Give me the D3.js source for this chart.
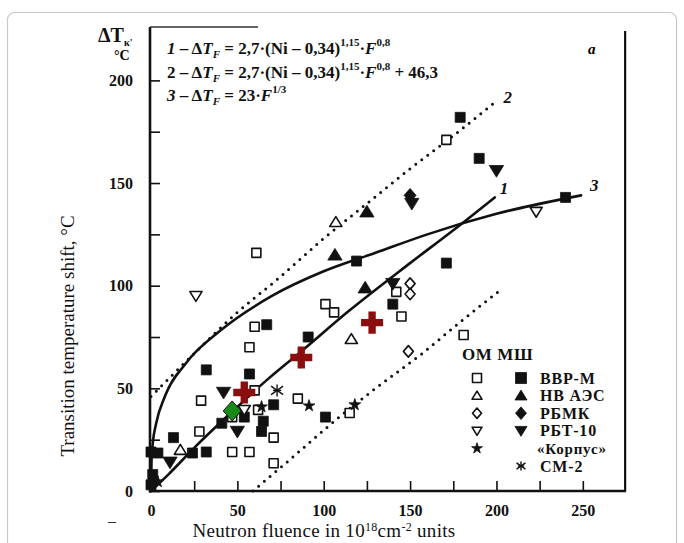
<!DOCTYPE html>
<html><head><meta charset="utf-8">
<script src="https://cdn.jsdelivr.net/npm/d3@7/dist/d3.min.js"></script>
<style>
html,body{margin:0;padding:0;background:#fff;}
svg{display:block;font-family:"Liberation Serif","Times New Roman",serif;}
</style></head><body>
<svg id="chart" width="684" height="543"></svg>
<script>
// points: [fluence (10^18 cm-2), shift (°C)]
const omVVR = [[61,116],[171,171],[101,91],[106,87],[60,80],[57,70],[142,97],[145,85],[181,76],[115,38],
    [29,44],[60,49],[62,39.5],[28,29],[47,19],[57,19],[71,26],[71,13.5],[85,45],[47,36]];
const mshVVR = [[179,182],[190,162],[240,143],[171,111],[119,112],[140,91],[67,81],[91,75],[32,59],[57,57],
    [71,42],[65,34],[64,29],[54,36],[41,33],[101,36],[13,26],[32,19],[24,18.5],[4,18.5],[0,19],[1,8],[0,3]];
const omNV = [[107,131],[116,74],[17,20]];
const mshNV = [[125,136],[106.5,115],[124,99]];
const omRBMK = [[150,101],[150,96],[149,68]];
const mshRBMK = [[150,144]];
const omRBT = [[26,95],[223,136],[54,39.5]];
const mshRBT = [[200,156],[151,140],[140,101],[42,48],[50,29],[11,14]];
const korpus = [[118,42],[91.5,41.5],[64,41],[4,4.5]];
const sm2 = [[73,49]];
const redCross = [[54,48],[87,65],[128,82]];
const greenDiamond = [[47,39]];

// fitted curves
const curve1 = [[0,0],[10,8],[25,21],[50,41],[67,54],[87,68],[115,88],[150,111],[175,127],[199,143]];
const curve2 = [[0,46],[25,67],[50,87],[73,103],[100,123],[125,140],[150,157],[175,173],[200,190]];
const curve2low = [[59,0],[80,15],[109,36],[130,50],[157,67],[180,83],[201,97]];
const curve3 = [[0,0],[0.3,15],[1,23],[3,33],[8,46],[20,62],[40,78],[70,95],[100,107],[130,116],[160,125],[200,135],[249,144]];

const xTicks = d3.range(0, 251, 25);
const yTicks = d3.range(0, 201, 25);

const legendRows = [
    { open: 'square', filled: 'square', label: 'ВВР-М' },
    { open: 'triUp', filled: 'triUp', label: 'НВ АЭС' },
    { open: 'diamond', filled: 'diamond', label: 'РБМК' },
    { open: 'triDown', filled: 'triDown', label: 'РБТ-10' },
    { open: 'star', filled: null, label: '«Корпус»' },
    { open: null, filled: 'asterisk', label: 'СМ-2' }
];

const svg = d3.select('#chart');
const x = d3.scaleLinear().domain([0, 275]).range([151, 626]);
const y = d3.scaleLinear().domain([0, 226]).range([491, 27]);

// outer page frame
svg.append('rect').attr('x', 7.5).attr('y', 12.5).attr('width', 669).attr('height', 545)
    .attr('rx', 7).attr('fill', '#fff').attr('stroke', '#c8c8c8').attr('stroke-width', 1.2);

// axes (inward ticks)
const xAxis = svg.append('g').attr('transform', `translate(0,${y(0)})`)
    .call(d3.axisBottom(x).tickValues(xTicks).tickSizeInner(-10).tickSizeOuter(0).tickPadding(14)
        .tickFormat(d => d % 50 === 0 ? d : ''));
const yAxis = svg.append('g').attr('transform', `translate(${x(0) - 1},0)`)
    .call(d3.axisLeft(y).tickValues(yTicks).tickSizeInner(-10).tickSizeOuter(0).tickPadding(17)
        .tickFormat(d => d % 50 === 0 ? d : ''));
[xAxis, yAxis].forEach(a => {
    a.select('.domain').remove();
    a.selectAll('line').attr('stroke', '#111').attr('stroke-width', 1.6);
    a.selectAll('text').attr('font-family', '"Liberation Serif", serif').attr('font-size', 16)
        .attr('font-weight', 700).attr('fill', '#111');
});

// frame lines
svg.append('line').attr('x1', x(0) - 1).attr('x2', x(0) - 1).attr('y1', y(226)).attr('y2', y(0) + 1.5)
    .attr('stroke', '#111').attr('stroke-width', 2.6);
svg.append('line').attr('x1', x(0) - 2).attr('x2', x(275)).attr('y1', y(0)).attr('y2', y(0))
    .attr('stroke', '#111').attr('stroke-width', 2.6);
svg.append('line').attr('x1', x(274.5)).attr('x2', x(274.5)).attr('y1', y(224)).attr('y2', y(0))
    .attr('stroke', '#111').attr('stroke-width', 2.2);
svg.append('line').attr('x1', x(0) - 1).attr('x2', x(62)).attr('y1', y(226)).attr('y2', y(226))
    .attr('stroke', '#333').attr('stroke-width', 1.6);

// curves
const line = d3.line().x(d => x(d[0])).y(d => y(d[1])).curve(d3.curveMonotoneX);
function drawCurve(data, dotted) {
    svg.append('path').datum(data).attr('d', line).attr('fill', 'none').attr('stroke', '#111')
        .attr('stroke-width', dotted ? 3 : 2.6).attr('stroke-linecap', 'round')
        .attr('stroke-dasharray', dotted ? '0 7.5' : null);
}
drawCurve(curve1, false);
drawCurve(curve3, false);
drawCurve(curve2, true);
drawCurve(curve2low, true);

function curveLabel(pt, txt, dx, dy) {
    svg.append('text').attr('x', x(pt[0]) + dx).attr('y', y(pt[1]) + dy)
        .attr('font-size', 17).attr('font-style', 'italic').attr('font-weight', 700).attr('fill', '#111')
        .text(txt);
}
curveLabel(curve1[curve1.length - 1], '1', 5, -3);
curveLabel(curve2[curve2.length - 1], '2', 7, 2);
curveLabel(curve3[curve3.length - 1], '3', 9, -4);

// markers
function symbolPath(type, s) {
    const h = s / 2;
    if (type === 'triUp') return `M0,${-h}L${h * 1.1},${h * 0.8}L${-h * 1.1},${h * 0.8}Z`;
    if (type === 'triDown') return `M0,${h}L${h * 1.1},${-h * 0.8}L${-h * 1.1},${-h * 0.8}Z`;
    if (type === 'diamond') return `M0,${-h * 1.15}L${h},0L0,${h * 1.15}L${-h},0Z`;
    if (type === 'star') return d3.symbol(d3.symbolStar, s * s * 0.3)();
    return `M${-h},${-h}h${s}v${s}h${-s}Z`;
}
function drawSymbol(g, type, filled, cx, cy, s) {
    if (type === 'asterisk') {
        const r = s * 0.5;
        const a = g.append('g').attr('transform', `translate(${cx},${cy})`)
            .attr('stroke', '#111').attr('stroke-width', 1.4);
        a.append('line').attr('x1', 0).attr('x2', 0).attr('y1', -r).attr('y2', r);
        a.append('line').attr('x1', -r).attr('x2', r).attr('y1', -r * 0.7).attr('y2', r * 0.7);
        a.append('line').attr('x1', -r).attr('x2', r).attr('y1', r * 0.7).attr('y2', -r * 0.7);
        a.append('line').attr('x1', -r * 0.7).attr('x2', r * 0.7).attr('y1', 0).attr('y2', 0);
        return;
    }
    g.append('path').attr('d', symbolPath(type, s)).attr('transform', `translate(${cx},${cy})`)
        .attr('fill', filled ? '#111' : '#fff').attr('stroke', '#111')
        .attr('stroke-width', filled ? 0.8 : 1.6).attr('stroke-linejoin', 'round');
}
const marks = svg.append('g');
function drawSeries(data, type, filled, s) {
    data.forEach(d => drawSymbol(marks, type, filled, x(d[0]), y(d[1]), s));
}
drawSeries(omVVR, 'square', false, 9);
drawSeries(mshVVR, 'square', true, 10);
drawSeries(omNV, 'triUp', false, 11);
drawSeries(mshNV, 'triUp', true, 13);
drawSeries(omRBMK, 'diamond', false, 10);
drawSeries(mshRBMK, 'diamond', true, 12);
drawSeries(omRBT, 'triDown', false, 11);
drawSeries(mshRBT, 'triDown', true, 13);
drawSeries(korpus, 'star', true, 12);
drawSeries(sm2, 'asterisk', false, 12);

// highlighted points
greenDiamond.forEach(d => {
    marks.append('path').attr('d', 'M0,-10L9,0L0,10L-9,0Z')
        .attr('transform', `translate(${x(d[0])},${y(d[1])})`)
        .attr('fill', '#178a17').attr('stroke', '#111').attr('stroke-width', 1);
});
redCross.forEach(d => {
    marks.append('path').attr('d', d3.symbol(d3.symbolCross, 270)())
        .attr('transform', `translate(${x(d[0])},${y(d[1])})`)
        .attr('fill', '#8b0d0d');
});

// legend
const lg = svg.append('g').attr('font-weight', 700).attr('fill', '#111');
lg.append('text').attr('x', 462).attr('y', 360).attr('font-size', 17).attr('letter-spacing', 0.6).text('ОМ МШ');
legendRows.forEach((r, i) => {
    const cy = 378 + i * 17.6;
    if (r.open) drawSymbol(lg, r.open, r.open === 'star', 477, cy, r.open === 'star' ? 11 : 9);
    if (r.filled) drawSymbol(lg, r.filled, true, 521, cy, r.filled === 'asterisk' ? 9 : 11);
    const k = r.label.startsWith('«');
    lg.append('text').attr('x', k ? 537 : 540).attr('y', cy + 5.5)
        .attr('font-size', k ? 15 : 16).attr('letter-spacing', 0.8).text(r.label);
});

// formulas
const fm = svg.append('g').attr('font-size', 17).attr('font-weight', 700).attr('fill', '#111');
function formula(yy, num, italicNum, parts) {
    const t = fm.append('text').attr('x', 167).attr('y', yy);
    t.append('tspan').attr('font-style', italicNum ? 'italic' : null).text(num);
    t.append('tspan').text(' – Δ');
    t.append('tspan').attr('font-style', 'italic').text('T');
    t.append('tspan').attr('font-style', 'italic').attr('font-size', 11).attr('dy', 4).text('F');
    parts.forEach((p, i) => {
        const sp = t.append('tspan').text(p.t);
        if (p.sup) sp.attr('font-size', 11).attr('dy', -8);
        if (p.after) sp.attr('dy', 8);
        if (p.it) sp.attr('font-style', 'italic');
        if (i === 0) sp.attr('dy', -4);
    });
}
formula(54, '1', true, [{ t: ' = 2,7·(Ni – 0,34)' }, { t: '1,15', sup: true }, { t: '·', after: true },
    { t: 'F', it: true }, { t: '0,8', sup: true }]);
formula(78, '2', false, [{ t: ' = 2,7·(Ni – 0,34)' }, { t: '1,15', sup: true }, { t: '·', after: true },
    { t: 'F', it: true }, { t: '0,8', sup: true }, { t: ' + 46,3', after: true }]);
formula(101, '3', true, [{ t: ' = 23·' }, { t: 'F', it: true }, { t: '1/3', sup: true }]);
svg.append('text').attr('x', 588).attr('y', 54).attr('font-size', 15).attr('font-style', 'italic')
    .attr('font-weight', 700).text('a');

// old axis caption top-left
const cap = svg.append('text').attr('x', 98).attr('y', 42).attr('font-weight', 700).attr('fill', '#111');
cap.append('tspan').attr('font-size', 20).text('ΔT');
cap.append('tspan').attr('font-size', 10).attr('dy', 4).text('к\'');
svg.append('text').attr('x', 114).attr('y', 60).attr('font-size', 14).attr('font-weight', 700).text('°C');
svg.append('text').attr('x', 108).attr('y', 526).attr('font-size', 16).attr('fill', '#333').text('–');

// axis titles
svg.append('text').attr('transform', 'translate(74,336) rotate(-90)').attr('text-anchor', 'middle')
    .attr('font-size', 19).attr('fill', '#111').text('Transition temperature shift, °C');
const xt = svg.append('text').attr('x', 324).attr('y', 537).attr('text-anchor', 'middle')
    .attr('font-size', 19).attr('letter-spacing', 0.3).attr('fill', '#111');
xt.append('tspan').text('Neutron fluence in 10');
xt.append('tspan').attr('font-size', 12).attr('dy', -6).text('18');
xt.append('tspan').attr('dy', 6).text('cm');
xt.append('tspan').attr('font-size', 12).attr('dy', -6).text('-2');
xt.append('tspan').attr('dy', 6).text(' units');
</script>
</body></html>
